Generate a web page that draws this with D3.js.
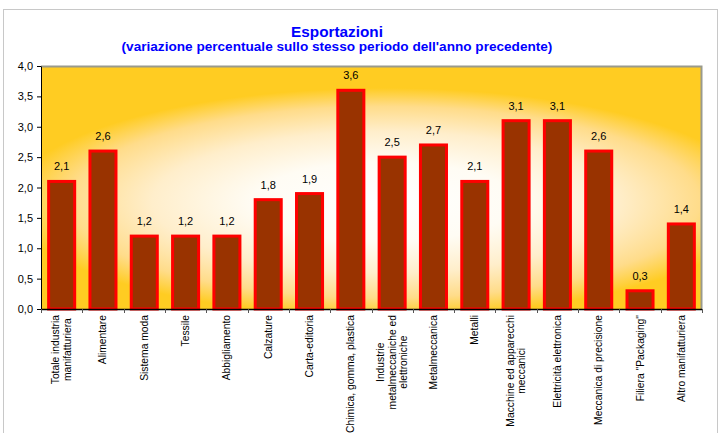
<!DOCTYPE html>
<html>
<head>
<meta charset="utf-8">
<script src="https://cdn.jsdelivr.net/npm/d3@7"></script>
<style>
  html, body { margin: 0; padding: 0; background: #ffffff; }
  svg { display: block; }
  text { font-family: "Liberation Sans", Arial, sans-serif; }
</style>
</head>
<body>
<svg id="chart" width="718" height="433"></svg>
<script>
// Export growth by sector (% change vs same period of previous year)
const categories = [
  "Totale industria\nmanifatturiera",
  "Alimentare",
  "Sistema moda",
  "Tessile",
  "Abbigliamento",
  "Calzature",
  "Carta-editoria",
  "Chimica, gomma, plastica",
  "Industrie\nmetalmeccaniche ed\nelettroniche",
  "Metalmeccanica",
  "Metalli",
  "Macchine ed apparecchi\nmeccanici",
  "Elettricità elettronica",
  "Meccanica di precisione",
  "Filiera \"Packaging\"",
  "Altro manifatturiera"
];
const values = [2.1, 2.6, 1.2, 1.2, 1.2, 1.8, 1.9, 3.6, 2.5, 2.7, 2.1, 3.1, 3.1, 2.6, 0.3, 1.4];
const yTicks = [0, 0.5, 1, 1.5, 2, 2.5, 3, 3.5, 4];
const titleText = "Esportazioni";
const subtitleText = "(variazione percentuale sullo stesso periodo dell'anno precedente)";

const svg = d3.select("#chart");
const plot = { left: 41, right: 702, top: 66, bottom: 309 };
const fmt = v => d3.format(".1f")(v).replace(".", ",");

// outer chart frame
svg.append("rect")
  .attr("x", 3.5).attr("y", 9.5)
  .attr("width", 714).attr("height", 440)
  .attr("fill", "#ffffff")
  .attr("stroke", "#c8c8c8").attr("stroke-width", 1);

// plot-area background: warm gradient lighter toward the middle
const defs = svg.append("defs");
const cx = plot.left + 0.52 * (plot.right - plot.left);
const cy = plot.top + 0.56 * (plot.bottom - plot.top);
const grad = defs.append("radialGradient")
  .attr("id", "bg")
  .attr("gradientUnits", "userSpaceOnUse")
  .attr("cx", 0).attr("cy", 0).attr("r", 1)
  .attr("gradientTransform", `translate(${cx},${cy}) scale(375,114)`);
[[0, "#ffffff"], [0.35, "#fffcf4"], [0.62, "#ffeecb"], [0.84, "#ffdc8a"], [1, "#ffcc22"]]
  .forEach(([o, c]) => grad.append("stop").attr("offset", o).attr("stop-color", c));

svg.append("rect")
  .attr("x", plot.left).attr("y", plot.top)
  .attr("width", plot.right - plot.left).attr("height", plot.bottom - plot.top)
  .attr("fill", "url(#bg)");

// top and right edges of plot frame
svg.append("path")
  .attr("d", `M${plot.left},${plot.top + 0.5}H${plot.right - 0.5}V${plot.bottom}`)
  .attr("fill", "none").attr("stroke", "#9a9a8c").attr("stroke-width", 2);

const x = d3.scaleBand()
  .domain(d3.range(categories.length))
  .range([plot.left, plot.right])
  .paddingInner(0.37)
  .paddingOuter(0.185);

const y = d3.scaleLinear().domain([0, 4]).range([plot.bottom, plot.top]);

// bars
svg.append("g").selectAll("rect")
  .data(values)
  .join("rect")
  .attr("x", (d, i) => x(i))
  .attr("y", d => y(d))
  .attr("width", x.bandwidth())
  .attr("height", d => y(0) - y(d))
  .attr("fill", "#993300")
  .attr("stroke", "#ff0000")
  .attr("stroke-width", 3);

// value labels
svg.append("g").selectAll("text")
  .data(values)
  .join("text")
  .attr("x", (d, i) => x(i) + x.bandwidth() / 2)
  .attr("y", d => y(d) - 11)
  .attr("text-anchor", "middle")
  .attr("font-size", 11)
  .attr("fill", "#000")
  .text(d => fmt(d));

// y axis
const yAxis = svg.append("g")
  .attr("transform", `translate(${plot.left},0)`)
  .call(d3.axisLeft(y).tickValues(yTicks).tickFormat(fmt).tickSize(4).tickPadding(4).tickSizeOuter(0));
yAxis.selectAll("text").attr("font-size", 11).attr("fill", "#000")
  .style("font-family", "'Liberation Sans', Arial, sans-serif");
yAxis.selectAll("line, path").attr("stroke", "#000");

// x axis baseline with ticks at category boundaries
const xAxis = svg.append("g");
xAxis.append("line")
  .attr("x1", plot.left).attr("x2", plot.right)
  .attr("y1", plot.bottom + 0.5).attr("y2", plot.bottom + 0.5)
  .attr("stroke", "#000").attr("stroke-width", 1.5);
const boundary = i => Math.round(plot.left + i * x.step()) + 0.5;
xAxis.selectAll("line.tick")
  .data(d3.range(categories.length + 1))
  .join("line")
  .attr("class", "tick")
  .attr("x1", boundary)
  .attr("x2", boundary)
  .attr("y1", plot.bottom).attr("y2", plot.bottom + 4)
  .attr("stroke", "#555");

// rotated category labels, lines centred on each other
const labelTop = 315;
const lineGap = 11.5;
categories.forEach((cat, i) => {
  const lines = cat.split("\n");
  const g = svg.append("g")
    .attr("transform", `translate(${x(i) + x.bandwidth() / 2},${labelTop}) rotate(-90)`);
  const texts = lines.map((ln, k) => g.append("text")
    .attr("font-size", 10.3)
    .attr("fill", "#000")
    .attr("text-anchor", "middle")
    .attr("dominant-baseline", "central")
    .attr("y", (k - (lines.length - 1) / 2) * lineGap)
    .text(ln));
  const maxLen = d3.max(texts, t => t.node().getComputedTextLength());
  texts.forEach(t => t.attr("x", -maxLen / 2));
});

// titles
svg.append("text")
  .attr("x", 337).attr("y", 37)
  .attr("text-anchor", "middle")
  .attr("font-size", 15.3).attr("font-weight", "bold")
  .attr("fill", "#0000ff")
  .text(titleText);
svg.append("text")
  .attr("x", 337).attr("y", 51)
  .attr("text-anchor", "middle")
  .attr("font-size", 13.6).attr("font-weight", "bold")
  .attr("fill", "#0000ff")
  .text(subtitleText);
</script>
</body>
</html>
